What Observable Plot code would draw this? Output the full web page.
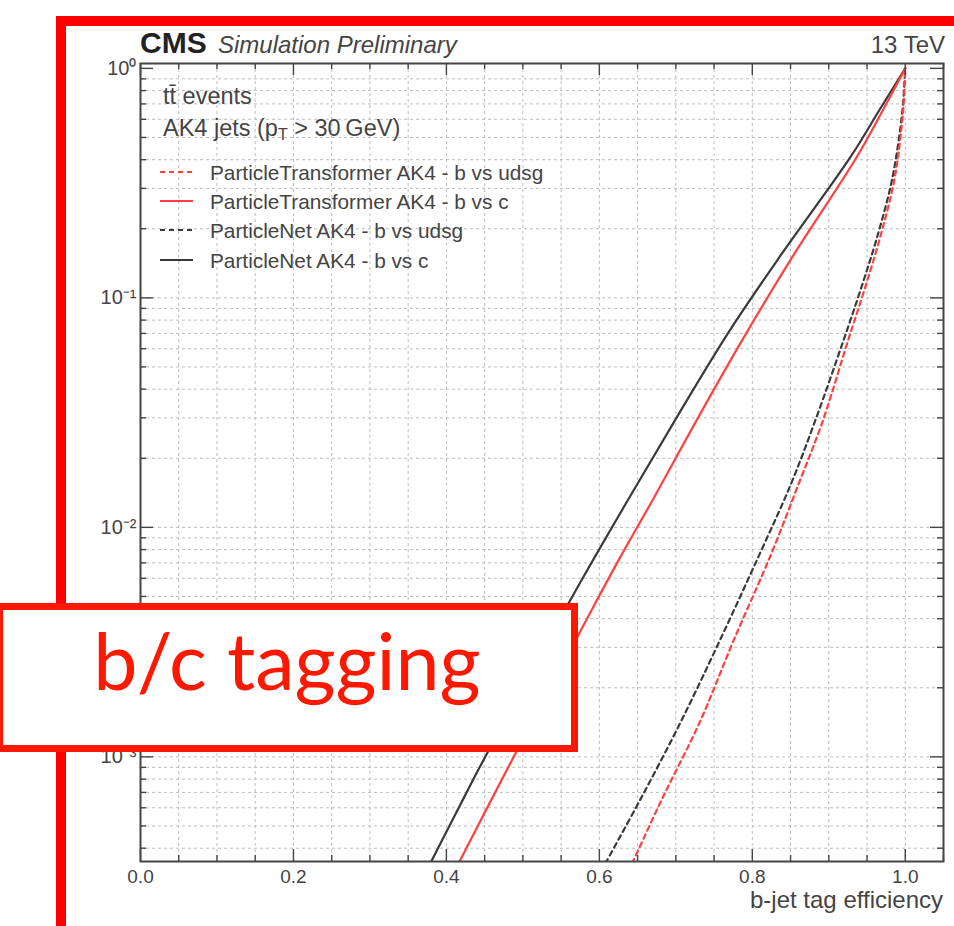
<!DOCTYPE html>
<html>
<head>
<meta charset="utf-8">
<script src="https://cdn.jsdelivr.net/npm/d3@7"></script>
<script src="https://cdn.jsdelivr.net/npm/@observablehq/plot@0.6"></script>
<style>
  body { margin: 0; background: #fff; }
  #page { position: relative; width: 954px; height: 926px; overflow: hidden; }
  #chart, #overlay { position: absolute; left: 0; top: 0; }
  #overlay { pointer-events: none; }
</style>
</head>
<body>
<div id="page">
  <div id="chart"></div>
  <svg id="overlay" width="954" height="926"></svg>
</div>
<script>
// ROC curves: b-jet tag efficiency vs. misidentification probability
const seriesNames = [
  "ParticleTransformer AK4 - b vs udsg",
  "ParticleTransformer AK4 - b vs c",
  "ParticleNet AK4 - b vs udsg",
  "ParticleNet AK4 - b vs c"
];

// ParticleTransformer, b vs udsg
const effPTudsg = [0.643, 0.682, 0.731, 0.776, 0.825, 0.860, 0.892, 0.925, 0.946, 0.967, 0.986, 0.997, 1.0];
const misPTudsg = [3.44e-4, 6.56e-4, 1.41e-3, 3.24e-3, 7.70e-3, 0.0153, 0.0290, 0.0649, 0.107, 0.183, 0.331, 0.643, 1.0];

// ParticleTransformer, b vs c
const effPTc = [0.416, 0.458, 0.523, 0.575, 0.625, 0.671, 0.732, 0.787, 0.852, 0.937, 0.974, 1.0];
const misPTc = [3.44e-4, 6.43e-4, 1.67e-3, 3.52e-3, 7.18e-3, 0.0134, 0.0313, 0.0656, 0.150, 0.413, 0.689, 1.0];

// ParticleNet, b vs udsg
const effPNudsg = [0.608, 0.654, 0.706, 0.758, 0.810, 0.850, 0.882, 0.919, 0.941, 0.963, 0.983, 0.996, 1.0];
const misPNudsg = [3.44e-4, 6.56e-4, 1.41e-3, 3.24e-3, 7.70e-3, 0.0153, 0.0290, 0.0649, 0.107, 0.183, 0.331, 0.643, 1.0];

// ParticleNet, b vs c
const effPNc = [0.379, 0.418, 0.444, 0.510, 0.575, 0.641, 0.706, 0.771, 0.837, 0.928, 0.967, 1.0];
const misPNc = [3.44e-4, 6.17e-4, 9.07e-4, 2.33e-3, 5.75e-3, 0.0138, 0.0321, 0.0725, 0.153, 0.409, 0.665, 1.0];

// axis ticks
const xMajor = [0.0, 0.2, 0.4, 0.6, 0.8, 1.0];
const xMajorLabels = ["0.0", "0.2", "0.4", "0.6", "0.8", "1.0"];
const yMajor = [1e-3, 1e-2, 1e-1, 1];
const yMajorLabels = ["10\u207B\u00B3", "10\u207B\u00B2", "10\u207B\u00B9", "10\u2070"];

// styling
const ptColor = "#ff4040";
const pnColor = "#3a3a3a";
const seriesColors = [ptColor, ptColor, pnColor, pnColor];
const seriesDashes = ["5,4", null, "5,4", null];

const W = 954, H = 926;
const mL = 140, mR = 11, mT = 63, mB = 65;
const innerW = W - mL - mR, innerH = H - mT - mB;
const yDomain = [3.5e-4, 1.05];
const xDomain = [0, 1.05];

const xSteps = d3.range(0, 22).map(i => +(i * 0.05).toFixed(2)).filter(v => v <= xDomain[1]);
const xMinor = xSteps.filter(v => !xMajor.some(m => Math.abs(m - v) < 1e-9));
const xGrid = xSteps.filter(v => v > 0 && v < xDomain[1]);
const yMinor = [];
for (const dec of [1e-4, 1e-3, 1e-2, 1e-1]) for (let k = 2; k <= 9; k++) {
  const v = +(k * dec).toPrecision(3);
  if (v >= yDomain[0] && v <= yDomain[1]) yMinor.push(v);
}
const yGrid = [...yMinor, ...yMajor].filter(v => v > yDomain[0] && v < 1);

const rows = (eff, mis, name) => eff.map((e, i) => ({series: name, eff: e, mis: mis[i]}));
const curves = [
  rows(effPTudsg, misPTudsg, seriesNames[0]),
  rows(effPTc, misPTc, seriesNames[1]),
  rows(effPNudsg, misPNudsg, seriesNames[2]),
  rows(effPNc, misPNc, seriesNames[3])
];

const gridStyle = {stroke: "#bdbdbd", strokeOpacity: 1, strokeWidth: 1, strokeDasharray: "3,3"};
const tickStyle = {stroke: "#444", strokeWidth: 1.4};
const curveMark = i => Plot.line(curves[i], {
  x: "eff", y: "mis", stroke: seriesColors[i], strokeWidth: 2.2,
  strokeDasharray: seriesDashes[i] ?? undefined, clip: true, curve: "catmull-rom"
});

const chart = Plot.plot({
  width: W, height: H,
  marginLeft: mL, marginRight: mR, marginTop: mT, marginBottom: mB,
  style: {fontFamily: "'Liberation Sans', Arial, sans-serif", fontSize: "19px", color: "#444", background: "transparent"},
  x: {domain: xDomain},
  y: {type: "log", domain: yDomain},
  marks: [
    Plot.gridX(xGrid, gridStyle),
    Plot.gridY(yGrid, gridStyle),
    // ParticleNet first, ParticleTransformer on top
    curveMark(3), curveMark(2), curveMark(1), curveMark(0),
    // inward ticks on all four sides
    Plot.tickX(xMajor, {x: d => d, insetTop: innerH - 12, ...tickStyle}),
    Plot.tickX(xMinor, {x: d => d, insetTop: innerH - 6, ...tickStyle}),
    Plot.tickX(xMajor, {x: d => d, insetBottom: innerH - 12, ...tickStyle}),
    Plot.tickX(xMinor, {x: d => d, insetBottom: innerH - 6, ...tickStyle}),
    Plot.tickY(yMajor, {y: d => d, insetRight: innerW - 13, ...tickStyle}),
    Plot.tickY(yMinor, {y: d => d, insetRight: innerW - 6, ...tickStyle}),
    Plot.tickY(yMajor, {y: d => d, insetLeft: innerW - 13, ...tickStyle}),
    Plot.tickY(yMinor, {y: d => d, insetLeft: innerW - 6, ...tickStyle}),
    Plot.frame({stroke: "#444", strokeWidth: 2}),
    Plot.axisX(xMajor, {anchor: "bottom", tickSize: 0, tickPadding: 8, label: null,
      tickFormat: d => xMajorLabels[xMajor.indexOf(d)], fontSize: 19}),
    Plot.axisY(yMajor, {anchor: "left", tickSize: 0, tickPadding: 4, label: null,
      tickFormat: d => yMajorLabels[yMajor.indexOf(d)], fontSize: 20})
  ]
});
document.getElementById("chart").append(chart);

// header, legend, axis title and slide decorations
const svg = d3.select("#overlay");
const font = "'Liberation Sans', Arial, sans-serif";

svg.append("text").attr("x", 140).attr("y", 53)
  .attr("font-family", font).attr("font-weight", "bold").attr("font-size", 30)
  .attr("fill", "#222").text("CMS");
svg.append("text").attr("x", 218).attr("y", 53)
  .attr("font-family", font).attr("font-style", "italic").attr("font-size", 24)
  .attr("fill", "#444").text("Simulation Preliminary");
svg.append("text").attr("x", 945).attr("y", 53).attr("text-anchor", "end")
  .attr("font-family", font).attr("font-size", 24).attr("fill", "#444").text("13 TeV");

svg.append("text").attr("x", 163).attr("y", 104)
  .attr("font-family", font).attr("font-size", 23.5).attr("fill", "#444").text("tt\u0304 events");
const ak4 = svg.append("text").attr("x", 163).attr("y", 136)
  .attr("font-family", font).attr("font-size", 23.5).attr("fill", "#444");
ak4.append("tspan").text("AK4 jets (p");
ak4.append("tspan").attr("dy", 4).attr("font-size", 16).text("T");
ak4.append("tspan").attr("dy", -4).text(" > 30\u2009GeV)");

const legendY = [172, 201, 230, 260];
seriesNames.forEach((name, i) => {
  svg.append("line").attr("x1", 160).attr("x2", 193).attr("y1", legendY[i]).attr("y2", legendY[i])
    .attr("stroke", seriesColors[i]).attr("stroke-width", 2.2)
    .attr("stroke-dasharray", seriesDashes[i]);
  svg.append("text").attr("x", 210).attr("y", legendY[i] + 7.5)
    .attr("font-family", font).attr("font-size", 20.8).attr("fill", "#444").text(name);
});

svg.append("text").attr("x", 943).attr("y", 908).attr("text-anchor", "end")
  .attr("font-family", font).attr("font-size", 24).attr("fill", "#444").text("b-jet tag efficiency");

// slide frame
svg.append("rect").attr("x", 56).attr("y", 16).attr("width", 898).attr("height", 10).attr("fill", "#ff0000");
svg.append("rect").attr("x", 56).attr("y", 16).attr("width", 10).attr("height", 910).attr("fill", "#ff0000");

// section label box
svg.append("rect").attr("x", -0.5).attr("y", 606.5).attr("width", 575).attr("height", 142)
  .attr("fill", "#fff").attr("stroke", "#ff1800").attr("stroke-width", 7);
svg.append("text").attr("x", 287).attr("y", 690).attr("text-anchor", "middle")
  .attr("font-family", "Lato, 'Open Sans', sans-serif").attr("font-size", 79)
  .attr("fill", "#ff1800").text("b/c tagging");
</script>
</body>
</html>
